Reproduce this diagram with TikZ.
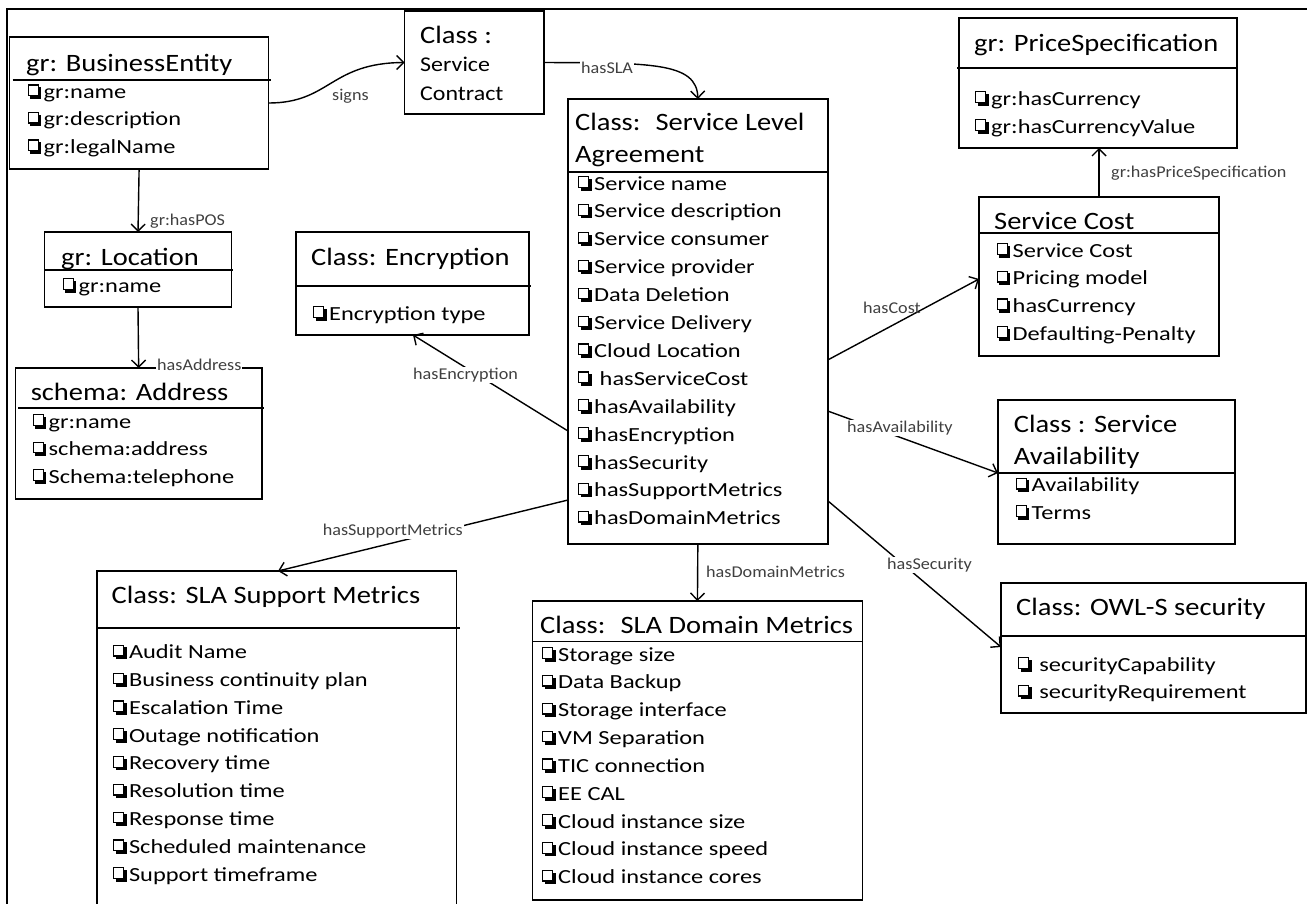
\documentclass[tikz,border=0pt]{standalone}
\usepackage{fontspec}
\setmainfont{Carlito}
\newfontfamily\ttlf[FakeStretch=1.14]{Carlito}
\newfontfamily\itmf[FakeStretch=1.22]{Carlito}
\newfontfamily\lblf[FakeStretch=1.1]{Carlito}
\usetikzlibrary{arrows.meta}
\definecolor{lblgray}{HTML}{404040}
\newcommand\cbx{\tikz[baseline=0pt,x=1pt,y=1pt]{\fill[black] (2.7,-0.5) rectangle (13.7,11.3); \filldraw[fill=white,draw=black,line width=1.2pt] (0.6,2.8) rectangle (10.6,13.4);}\kern2.3pt}
\tikzset{
 boxst/.style={draw, line width=1.6pt, inner sep=0pt, outer sep=0pt, anchor=north west},
 sepst/.style={line width=1.2pt},
 ttlst/.style={anchor=base west, inner sep=0pt, font=\ttlf\fontsize{25}{30}\selectfont},
 sctst/.style={anchor=base west, inner sep=0pt, font=\ttlf\fontsize{21}{25}\selectfont},
 itmst/.style={anchor=base west, inner sep=0pt, font=\itmf\fontsize{20}{24}\selectfont},
 lblst/.style={anchor=base west, inner sep=1pt, text=lblgray, font=\lblf\fontsize{16.5}{20}\selectfont},
 wlbl/.style={lblst, fill=white},
 conn/.style={line width=1.4pt, -{Straight Barb[length=7pt,width=14pt]}},
}
\begin{document}
\begin{tikzpicture}[x=1pt,y=-1pt]
\useasboundingbox (0,0) rectangle (1307,903);
\draw[line width=1.8pt] (7,910) -- (7,9) -- (1310,9);

% boxes
\node[boxst, minimum width=259pt, minimum height=132pt] (be) at (9.6,37) {};
\node[boxst, minimum width=139.4pt, minimum height=103pt] (sc) at (404.6,11) {};
\node[boxst, minimum width=186.8pt, minimum height=75pt] (loc) at (44.6,232) {};
\node[boxst, minimum width=233pt, minimum height=103pt] (enc) at (296,232) {};
\node[boxst, minimum width=246.7pt, minimum height=131pt] (addr) at (15.3,368) {};
\node[boxst, minimum width=259.7pt, minimum height=445pt] (sla) at (568,99) {};
\node[boxst, minimum width=278pt, minimum height=130pt] (ps) at (959,18) {};
\node[boxst, minimum width=240pt, minimum height=159pt] (cost) at (979,197) {};
\node[boxst, minimum width=236.7pt, minimum height=144pt] (avail) at (998,400) {};
\node[boxst, minimum width=304.7pt, minimum height=130.3pt] (owl) at (1001,582.7) {};
\node[boxst, minimum width=330.1pt, minimum height=299pt] (dm) at (532.4,601) {};
\node[boxst, minimum width=359.8pt, minimum height=345pt] (sup) at (96.8,571) {};

% separators
\draw[sepst] (12.5,80) -- (271,80);
\draw[sepst] (44.6,270) -- (233,270);
\draw[sepst] (296,286) -- (531,286);
\draw[sepst] (18,408) -- (264,408);
\draw[sepst] (568,172) -- (827.7,172);
\draw[sepst] (957,68) -- (1237,68);
\draw[sepst] (979,233) -- (1219,233);
\draw[sepst] (998,473) -- (1234.7,473);
\draw[sepst] (1001,636) -- (1305.7,636);
\draw[sepst] (532.4,641.7) -- (862.5,641.7);
\draw[sepst] (97,628) -- (460,628);

% titles
\node[ttlst] (tbe) at (26,71.7) {gr: BusinessEntity};
\node[ttlst] (tsc1) at (420,43.3) {Class :};
\node[sctst] (tsc2) at (420,71.7) {Service};
\node[sctst] (tsc3) at (420,100) {Contract};
\node[ttlst] (tloc) at (61,265) {gr: Location};
\node[ttlst] (tenc) at (311,265) {Class: Encryption};
\node[ttlst] (taddr) at (30.6,400) {schema: Address};
\node[ttlst] (tsla1) at (575,130) {Class:~ Service Level};
\node[ttlst] (tsla2) at (575,162) {Agreement};
\node[ttlst] (tps) at (974,51) {gr: PriceSpecification};
\node[ttlst] (tcost) at (994,229) {Service Cost};
\node[ttlst] (tav1) at (1013.6,432) {Class : Service};
\node[ttlst] (tav2) at (1013.6,464) {Availability};
\node[ttlst] (towl) at (1016,615) {Class: OWL-S security};
\node[ttlst] (tdm) at (540,633.7) {Class:~ SLA Domain Metrics};
\node[ttlst] (tsup) at (111.5,603) {Class: SLA Support Metrics};

% items
\foreach \t [count=\i from 0] in {gr:name,gr:description,gr:legalName}
  \node[itmst] (bei\i) at (27.5,{98.3+27.5*\i}) {\cbx\t};
\node[itmst] (loci0) at (62.5,292) {\cbx gr:name};
\node[itmst] (enci0) at (313,320) {\cbx Encryption type};
\foreach \t [count=\i from 0] in {gr:name,schema:address,Schema:telephone}
  \node[itmst] (addri\i) at (32.5,{428+27.5*\i}) {\cbx\t};
\foreach \t [count=\i from 0] in {Service name,Service description,Service consumer,Service provider,Data Deletion,Service Delivery,Cloud Location,\ hasServiceCost,hasAvailability,hasEncryption,hasSecurity,hasSupportMetrics,hasDomainMetrics}
  \node[itmst] (slai\i) at (578,{190+27.9*\i}) {\cbx\t};
\foreach \t [count=\i from 0] in {gr:hasCurrency,gr:hasCurrencyValue}
  \node[itmst] (psi\i) at (975,{105+28*\i}) {\cbx\t};
\foreach \t [count=\i from 0] in {Service Cost,Pricing model,hasCurrency,Defaulting-Penalty}
  \node[itmst] (costi\i) at (996.5,{257+27.7*\i}) {\cbx\t};
\foreach \t [count=\i from 0] in {Availability,Terms}
  \node[itmst] (avi\i) at (1015.5,{491.7+27.3*\i}) {\cbx\t};
\foreach \t [count=\i from 0] in {securityCapability,securityRequirement}
  \node[itmst] (owli\i) at (1017.7,{671+27.7*\i}) {\cbx\ \t};
\foreach \t [count=\i from 0] in {Storage size,Data Backup,Storage interface,VM Separation,TIC connection,EE CAL,Cloud instance size,Cloud instance speed,Cloud instance cores}
  \node[itmst] (dmi\i) at (542,{661+27.85*\i}) {\cbx\t};
\foreach \t [count=\i from 0] in {Audit Name,Business continuity plan,Escalation Time,Outage notification,Recovery time,Resolution time,Response time,Scheduled maintenance,Support timeframe}
  \node[itmst] (supi\i) at (112.8,{658.7+27.8*\i}) {\cbx\t};

% connectors
\draw[conn] (be.east) .. controls (330,103) and (330,63) .. (sc.west);
\draw[conn] (sc.east) .. controls (650,63) and (697,62) .. (sla.north);
\draw[conn] (be.south) -- (loc.north);
\draw[conn] (loc.south) -- (addr.north);
\draw[conn] (sla.west |- 0,431) -- (enc.south -| 413,0);
\draw[conn] (sla.west |- 0,500) -- (sup.north -| 278,0);
\draw[conn] (sla.south) -- (dm.north);
\draw[conn] (sla.east |- 0,360) -- (cost.west |- 0,279);
\draw[conn] (cost.north -| 1099,0) -- (ps.south -| 1099,0);
\draw[conn] (sla.east |- 0,411) -- (avail.west |- 0,473);
\draw[conn] (sla.east |- 0,500.7) -- (owl.west |- 0,647);

% labels
\node[wlbl] (lsigns) at (331,100) {signs};
\node[wlbl] (lsla) at (580,73) {hasSLA};
\node[lblst] (lpos) at (149,225) {gr:hasPOS};
\node[wlbl] (laddr) at (156,370) {hasAddress};
\node[wlbl] (lenc) at (412,379) {hasEncryption};
\node[wlbl] (lsup) at (321.6,535) {hasSupportMetrics};
\node[lblst] (lcost) at (862,313) {hasCost};
\node[lblst] (lps) at (1110,177) {gr:hasPriceSpecification};
\node[wlbl] (lav) at (846,432) {hasAvailability};
\node[lblst] (ldm) at (705,577) {hasDomainMetrics};
\node[wlbl] (lsec) at (886,569) {hasSecurity};
\end{tikzpicture}
\end{document}
